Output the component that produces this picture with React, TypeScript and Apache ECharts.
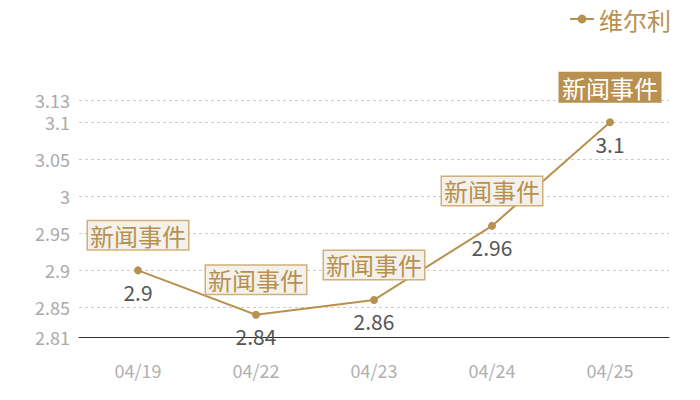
import React, { useEffect, useRef } from "react";
import * as echarts from "echarts";

const categories = ["04/19", "04/22", "04/23", "04/24", "04/25"];
const values = [2.9, 2.84, 2.86, 2.96, 3.1];
const seriesName = "维尔利";
const eventText = "新闻事件";
const yMin = 2.81;
const yMax = 3.13;

const GOLD = "#b8904f";
const FONT = "'Noto Sans CJK SC', 'Noto Sans', sans-serif";

export default function App() {
  const ref = useRef<HTMLDivElement>(null);
  useEffect(() => {
    if (!ref.current) return;
    const chart = echarts.init(ref.current, null, { renderer: "svg" });
    const maxVal = Math.max(...values);
    chart.setOption({
      animation: false,
      textStyle: { fontFamily: FONT },
      legend: {
        right: 24,
        top: 2,
        itemWidth: 24,
        itemHeight: 11,
        itemGap: 6,
        textStyle: { color: GOLD, fontSize: 24, fontFamily: FONT },
        data: [seriesName],
      },
      grid: { left: 79, right: 31, top: 100, bottom: 63 },
      xAxis: {
        type: "category",
        data: categories,
        boundaryGap: true,
        axisLine: { lineStyle: { color: "#333", width: 1 } },
        axisTick: { show: false },
        axisLabel: { color: "#b0b0b0", fontSize: 18, margin: 24, fontFamily: FONT },
      },
      yAxis: {
        type: "value",
        min: yMin,
        max: yMax,
        axisLine: { show: false },
        axisTick: { show: false },
        axisLabel: { color: "#aaa", fontSize: 18, margin: 9, fontFamily: FONT },
        splitLine: { lineStyle: { color: "#ccc", type: [3, 3] } },
      },
      series: [
        {
          name: seriesName,
          type: "line",
          data: values,
          symbol: "circle",
          symbolSize: 8,
          itemStyle: { color: GOLD },
          lineStyle: { color: GOLD, width: 2 },
          label: {
            show: true,
            position: "bottom",
            distance: 7,
            color: "#555",
            fontSize: 21,
            fontFamily: FONT,
          },
          markPoint: {
            symbol: "rect",
            symbolSize: 1,
            itemStyle: { color: "transparent" },
            data: values.map((v, i) => {
              const isMax = v === maxVal;
              return {
                coord: [i, v],
                value: v,
                label: {
                  show: true,
                  formatter: eventText,
                  position: "inside",
                  offset: [0, -35],
                  fontSize: 24,
                  fontFamily: FONT,
                  color: isMax ? "#fff" : GOLD,
                  backgroundColor: isMax ? GOLD : "#f4f0ea",
                  borderColor: isMax ? GOLD : "#cfb07a",
                  borderWidth: 1.5,
                  padding: [3, 2, 1, 2],
                },
              };
            }),
          },
        },
      ],
    });
    return () => chart.dispose();
  }, []);
  return (
    <div
      ref={ref}
      style={{ position: "absolute", left: 0, top: 0, width: 700, height: 400 }}
    />
  );
}
